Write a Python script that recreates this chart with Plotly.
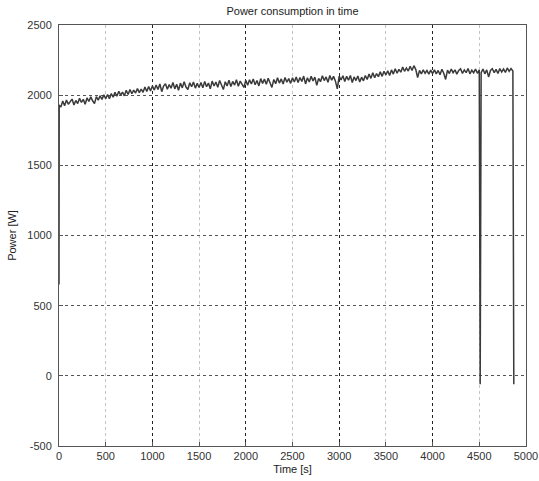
import numpy as np
import plotly.graph_objects as go

# Regular samples every 20 s, starting at t = 20 s
series_start = 20
series_step = 20
power_w = [
    # 20 .. 500
    1915, 1958, 1925, 1965, 1935, 1955, 1972, 1930, 1962, 1940, 1978, 1948, 1970, 1935, 1980, 1955, 1988, 1960, 1940, 1990, 1965, 1995, 1970, 2002, 1975,
    # 520 .. 1000
    2005, 1975, 2012, 1985, 2020, 1992, 2028, 2000, 2022, 1995, 2035, 2005, 2040, 2010, 2036, 2015, 2048, 2018, 2044, 2020, 2058, 2026, 2062, 2030, 2066,
    # 1020 .. 1500
    2036, 2072, 2040, 2080, 2025, 2065, 2082, 2042, 2075, 2050, 2090, 2045, 2078, 2035, 2086, 2052, 2095, 2058, 2040, 2088, 2060, 2094, 2050, 2084, 2055,
    # 1520 .. 2000
    2090, 2052, 2098, 2060, 2086, 2045, 2100, 2065, 2094, 2056, 2104, 2070, 2040, 2096, 2066, 2106, 2062, 2098, 2072, 2110, 2064, 2100, 2076, 2055, 2106,
    # 2020 .. 2500
    2070, 2110, 2080, 2116, 2074, 2104, 2066, 2118, 2084, 2114, 2078, 2120, 2090, 2055, 2112, 2082, 2124, 2086, 2116, 2080, 2126, 2092, 2118, 2084, 2124,
    # 2520 .. 3000
    2094, 2130, 2090, 2126, 2098, 2136, 2080, 2124, 2094, 2134, 2102, 2128, 2070, 2120, 2096, 2138, 2104, 2130, 2092, 2140, 2106, 2134, 2100, 2045, 2136,
    # 3020 .. 3500
    2108, 2138, 2098, 2134, 2106, 2140, 2090, 2130, 2104, 2136, 2094, 2128, 2102, 2140, 2112, 2150, 2120, 2160, 2124, 2154, 2132, 2166, 2134, 2170, 2144,
    # 3520 .. 4000
    2174, 2140, 2180, 2150, 2188, 2156, 2184, 2164, 2200, 2170, 2194, 2172, 2206, 2176, 2210, 2184, 2125, 2176, 2152, 2180, 2156, 2176, 2150, 2178, 2154,
    # 4020 .. 4500
    2180, 2152, 2176, 2145, 2184, 2156, 2112, 2178, 2154, 2186, 2160, 2180, 2150, 2176, 2188, 2155, 2180, 2160, 2190, 2152, 2178, 2160, 2186, 2156, 2180,
    # 4520 .. 4860
    2160, 2186, 2152, 2180, 2130, 2176, 2188, 2160, 2184, 2154, 2190, 2165, 2186, 2162, 2194, 2170, 2190, 2172,
]

# Irregular events: start-up transient and drop-outs
event_time = [0, 2, 4510, 4870]
event_power = [650, 1930, -60, -60]

x_ticks = [0, 500, 1000, 1500, 2000, 2500, 3000, 3500, 4000, 4500, 5000]
x_tick_text = ["0", "500", "1000", "1500", "2000", "2500", "3000", "3500", "4000", "4500", "5000"]
x_major = [0, 1000, 2000, 3000, 4000, 5000]
y_ticks = [-500, 0, 500, 1000, 1500, 2000, 2500]
y_tick_text = ["-500", "0", "500", "1000", "1500", "2000", "2500"]
x_range = [0, 5000.5]
y_range = [-500, 2500]

series_time = series_start + series_step * np.arange(len(power_w))
t_all = np.concatenate([series_time, np.array(event_time)])
p_all = np.concatenate([np.array(power_w), np.array(event_power)])
order = np.argsort(t_all, kind="stable")
t_all = t_all[order]
p_all = p_all[order]

font = dict(family="Liberation Sans, Arial, sans-serif", size=11, color="#222")

fig = go.Figure()
fig.add_trace(go.Scatter(x=t_all, y=p_all, mode="lines",
                         line=dict(color="#3a3a3a", width=1.5), showlegend=False,
                         hoverinfo="skip"))
# helper trace for the major-grid overlay axis
fig.add_trace(go.Scatter(x=[x_ticks[0]], y=[y_ticks[0]], xaxis="x2", mode="markers",
                         marker=dict(opacity=0), showlegend=False, hoverinfo="skip"))

fig.update_layout(
    width=539, height=481,
    margin=dict(l=59, r=13, t=25, b=35),
    paper_bgcolor="white", plot_bgcolor="white",
    font=font,
    title=dict(text="Power consumption in time", x=0.5, xref="paper", xanchor="center",
               y=1, yref="container", yanchor="top", pad=dict(t=7),
               font=dict(size=11, color="#222")),
    xaxis=dict(range=x_range, tickmode="array", tickvals=x_ticks, ticktext=x_tick_text,
               automargin=False, ticklabeloverflow="allow",
               showgrid=True, gridcolor="#c4c4c4", griddash="dot", gridwidth=1,
               zeroline=False, showline=True, linecolor="#555", linewidth=1, mirror=True,
               ticks="inside", ticklen=4, tickcolor="#555",
               title=dict(text="Time [s]", standoff=4, font=dict(size=11)),
               tickfont=dict(size=11, color="#333")),
    xaxis2=dict(range=x_range, overlaying="x", anchor="y", side="bottom", automargin=False,
                tickmode="array", tickvals=x_major, showticklabels=False,
                showgrid=True, gridcolor="#222", griddash="dot", gridwidth=1,
                zeroline=False, showline=False, ticks=""),
    yaxis=dict(range=y_range, tickmode="array", tickvals=y_ticks, ticktext=y_tick_text,
               automargin=False, ticklabeloverflow="allow",
               showgrid=True, gridcolor="#555", griddash="dot", gridwidth=1,
               zeroline=False, showline=True, linecolor="#555", linewidth=1, mirror=True,
               ticks="inside", ticklen=4, tickcolor="#555",
               ticklabelstandoff=4,
               title=dict(text="Power [W]", standoff=8, font=dict(size=11)),
               tickfont=dict(size=11, color="#333")),
)

fig.write_html("out.html")
